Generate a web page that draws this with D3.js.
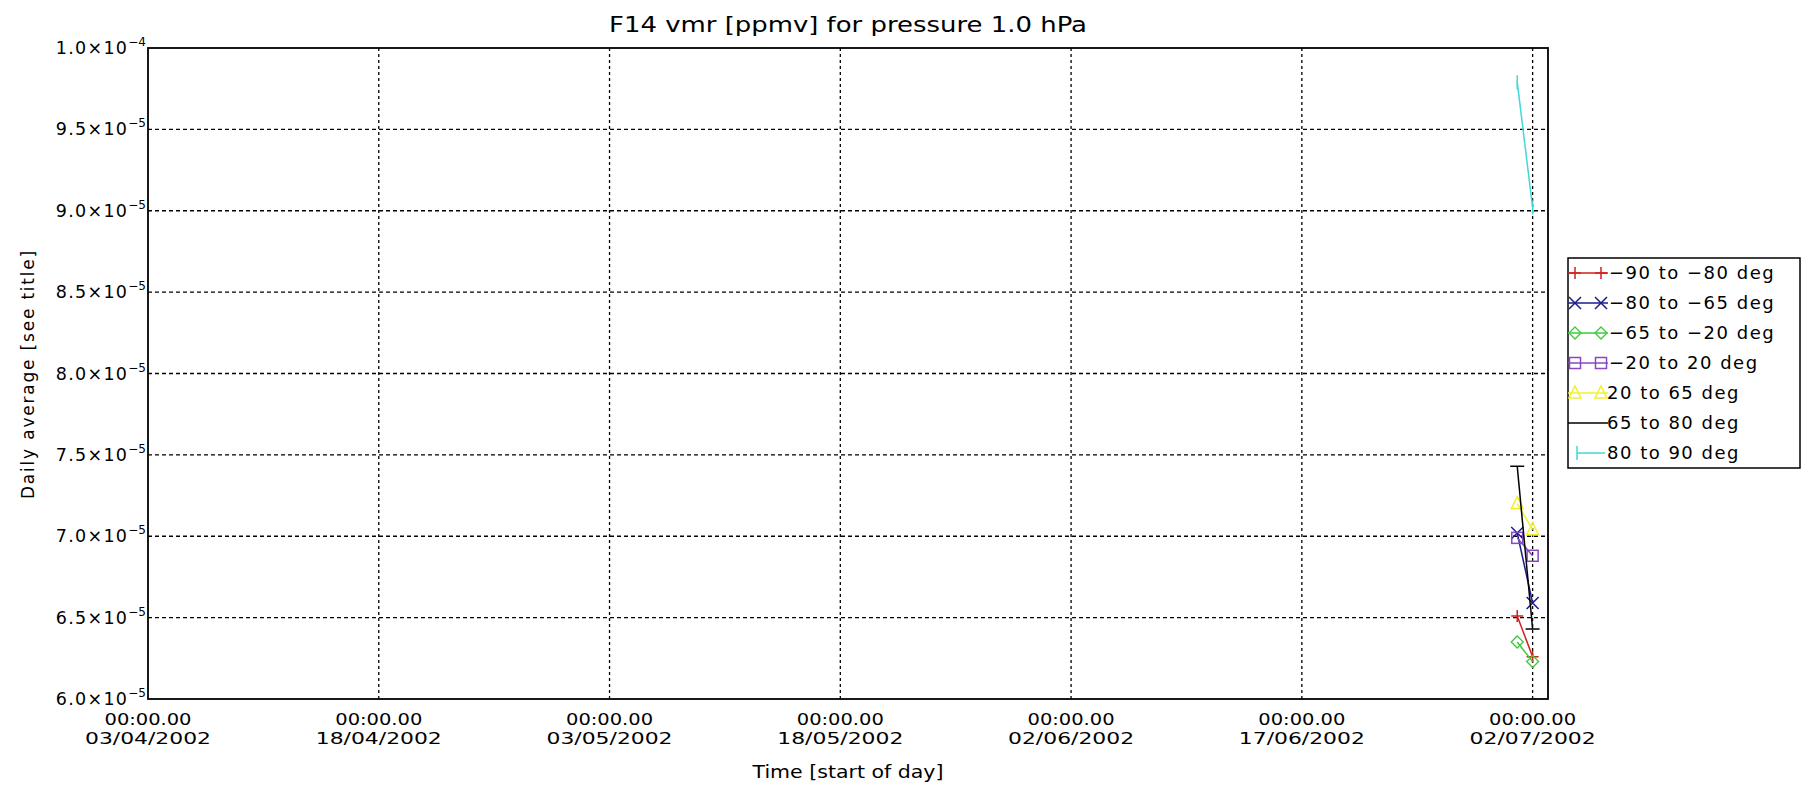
<!DOCTYPE html>
<html><head><meta charset="utf-8">
<script src="https://cdn.jsdelivr.net/npm/d3@7"></script>
<style>body{margin:0;background:#fff}svg{display:block}text{font-family:"DejaVu Sans",sans-serif;fill:#000}</style>
</head><body>
<svg id="c" width="1801" height="785"></svg>
<script>
const title = "F14 vmr [ppmv] for pressure 1.0 hPa";
const xTitle = "Time [start of day]";
const yTitle = "Daily average [see title]";
const dates = ["2002-07-01", "2002-07-02"];
const xTickDates = ["2002-04-03","2002-04-18","2002-05-03","2002-05-18","2002-06-02","2002-06-17","2002-07-02"];
const xTickTime = "00:00.00";
const yTicks = [6.0e-5,6.5e-5,7.0e-5,7.5e-5,8.0e-5,8.5e-5,9.0e-5,9.5e-5,1.0e-4];
const seriesNames = ["\u221290 to \u221280 deg","\u221280 to \u221265 deg","\u221265 to \u221220 deg","\u221220 to 20 deg","20 to 65 deg","65 to 80 deg","80 to 90 deg"];
const seriesColors = ["#d02020","#1c1c8c","#40c840","#8848c0","#f0f030","#000000","#40d8d8"];
const seriesSymbols = ["plus","x","diamond","square","triangle","hbar","vbar"];
const vS1 = [6.51e-5, 6.26e-5];
const vS2 = [7.02e-5, 6.59e-5];
const vS3 = [6.35e-5, 6.23e-5];
const vS4 = [6.99e-5, 6.88e-5];
const vS5 = [7.20e-5, 7.04e-5];
const vS6 = [7.43e-5, 6.43e-5];
const vS7 = [9.79e-5, 9.02e-5];
const seriesValues = [vS1,vS2,vS3,vS4,vS5,vS6,vS7];

const svg = d3.select("#c");
const L=148, T=48, R=1548, B=699;
const parse = d3.utcParse("%Y-%m-%d");
const x = d3.scaleUtc().domain([parse("2002-04-03"), parse("2002-07-03")]).range([L,R]);
const y = d3.scaleLinear().domain([6.0e-5,1.0e-4]).range([B,T]);
const cx0 = (L+R)/2;

function fit(t, w){ t.attr("textLength", w).attr("lengthAdjust","spacingAndGlyphs"); return t; }

// grid
const g = svg.append("g");
g.selectAll(".hg").data(yTicks.slice(1,-1)).join("line")
  .attr("x1",L).attr("x2",R).attr("y1",d=>y(d)).attr("y2",d=>y(d))
  .attr("stroke","#000").attr("stroke-width",1.3).attr("stroke-dasharray","4,3");
g.selectAll(".vg").data(xTickDates.slice(1)).join("line")
  .attr("x1",d=>x(parse(d))).attr("x2",d=>x(parse(d))).attr("y1",T).attr("y2",B)
  .attr("stroke","#000").attr("stroke-width",1.3).attr("stroke-dasharray","3,3");

// frame
svg.append("rect").attr("x",L).attr("y",T).attr("width",R-L).attr("height",B-T)
  .attr("fill","none").attr("stroke","#000").attr("stroke-width",1.8);

// y labels
yTicks.forEach(v=>{
  const e = Math.floor(Math.log10(v)+1e-9);
  const m = v/Math.pow(10,e);
  const t = svg.append("text").attr("x",L-2).attr("y",y(v)+6).attr("text-anchor","end").attr("font-size",17.5).attr("letter-spacing",1.3);
  t.append("tspan").text(m.toFixed(1)+"\u00d710");
  t.append("tspan").attr("dy",-8).attr("font-size",12).attr("letter-spacing",0).text("\u2212"+(-e));
});
// x labels
xTickDates.forEach(d=>{
  const px = x(parse(d));
  const p = d.split("-");
  fit(svg.append("text").attr("x",px).attr("y",725).attr("text-anchor","middle").attr("font-size",16).text(xTickTime), 87);
  fit(svg.append("text").attr("x",px).attr("y",744).attr("text-anchor","middle").attr("font-size",16).text(p[2]+"/"+p[1]+"/"+p[0]), 126);
});
fit(svg.append("text").attr("x",cx0).attr("y",778).attr("text-anchor","middle").attr("font-size",17).text(xTitle), 191);
svg.append("text").attr("transform","translate(34,374) rotate(-90)").attr("text-anchor","middle").attr("font-size",17).attr("letter-spacing",1.8).text(yTitle);
fit(svg.append("text").attr("x",cx0).attr("y",32).attr("text-anchor","middle").attr("font-size",20.5).text(title), 478);

function sym(sel, type, color, cx, cy){
  const s=6;
  if(type==="plus"){
    sel.append("path").attr("d",`M${cx-s},${cy}H${cx+s}M${cx},${cy-s}V${cy+s}`).attr("stroke",color).attr("stroke-width",1.5).attr("fill","none");
  } else if(type==="x"){
    sel.append("path").attr("d",`M${cx-s},${cy-s}L${cx+s},${cy+s}M${cx-s},${cy+s}L${cx+s},${cy-s}`).attr("stroke",color).attr("stroke-width",1.5).attr("fill","none");
  } else if(type==="diamond"){
    sel.append("path").attr("d",`M${cx},${cy-s}L${cx+s},${cy}L${cx},${cy+s}L${cx-s},${cy}Z`).attr("stroke",color).attr("stroke-width",1.3).attr("fill","none");
  } else if(type==="square"){
    sel.append("rect").attr("x",cx-5.5).attr("y",cy-5.5).attr("width",11).attr("height",11).attr("stroke",color).attr("stroke-width",1.5).attr("fill","none");
  } else if(type==="triangle"){
    sel.append("path").attr("d",`M${cx},${cy-s-1}L${cx+s},${cy+s-1}L${cx-s},${cy+s-1}Z`).attr("stroke",color).attr("stroke-width",1.5).attr("fill","none");
  } else if(type==="hbar"){
    sel.append("path").attr("d",`M${cx-7},${cy}H${cx+7}`).attr("stroke",color).attr("stroke-width",1.5);
  } else if(type==="vbar"){
    sel.append("path").attr("d",`M${cx},${cy-7}V${cy+7}`).attr("stroke",color).attr("stroke-width",1.5);
  }
}

// series
const line = d3.line().x(d=>x(d.t)).y(d=>y(d.v));
seriesValues.forEach((vals,i)=>{
  const pts = vals.map((v,j)=>({t:parse(dates[j]),v:v}));
  const gs = svg.append("g");
  gs.append("path").attr("d",line(pts)).attr("fill","none").attr("stroke",seriesColors[i]).attr("stroke-width",1.5);
  pts.forEach(p=>sym(gs,seriesSymbols[i],seriesColors[i],x(p.t),y(p.v)));
});

// legend
const lx=1568, ly=258;
svg.append("rect").attr("x",lx).attr("y",ly).attr("width",232).attr("height",210).attr("fill","#fff").attr("stroke","#000").attr("stroke-width",1.5);
seriesNames.forEach((n,i)=>{
  const cy = ly+15+i*30;
  const gl = svg.append("g");
  const colr = seriesColors[i];
  if(i===6){
    gl.append("line").attr("x1",1577).attr("x2",1605).attr("y1",cy).attr("y2",cy).attr("stroke",colr).attr("stroke-width",1.5);
    sym(gl,seriesSymbols[i],colr,1577,cy);
  } else {
    gl.append("line").attr("x1",lx).attr("x2",1608).attr("y1",cy).attr("y2",cy).attr("stroke",colr).attr("stroke-width",1.5);
    if(seriesSymbols[i]!=="hbar"){ sym(gl,seriesSymbols[i],colr,1575,cy); sym(gl,seriesSymbols[i],colr,1601,cy); }
  }
  gl.append("text").attr("x",i>=4?1607:1609).attr("y",cy+6).attr("font-size",18).attr("letter-spacing",1.5).text(n);
});
</script>
</body></html>
